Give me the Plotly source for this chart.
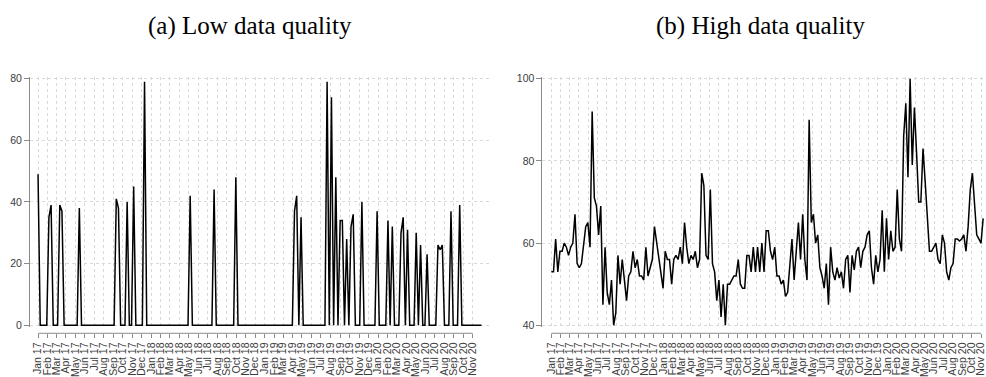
import pandas as pd
import plotly.graph_objects as go

# Weekly counts, starting the week of 1 Jan 2017
low_quality = [
    49, 0, 0, 0, 0, 35, 39, 0, 0, 0,
    39, 37, 0, 0, 0, 0, 0, 0, 0, 38,
    0, 0, 0, 0, 0, 0, 0, 0, 0, 0,
    0, 0, 0, 0, 0, 0, 41, 38, 0, 0,
    0, 40, 0, 0, 45, 0, 0, 0, 0, 79,
    0, 0, 0, 0, 0, 0, 0, 0, 0, 0,
    0, 0, 0, 0, 0, 0, 0, 0, 0, 0,
    42, 0, 0, 0, 0, 0, 0, 0, 0, 0,
    0, 44, 0, 0, 0, 0, 0, 0, 0, 0,
    0, 48, 0, 0, 0, 0, 0, 0, 0, 0,
    0, 0, 0, 0, 0, 0, 0, 0, 0, 0,
    0, 0, 0, 0, 0, 0, 0, 0, 37, 42,
    0, 35, 0, 0, 0, 0, 0, 0, 0, 0,
    0, 0, 0, 79, 0, 74, 0, 48, 0, 34,
    34, 0, 28, 0, 32, 36, 0, 0, 0, 40,
    0, 0, 0, 0, 0, 0, 37, 0, 0, 0,
    0, 34, 0, 32, 0, 0, 0, 30, 35, 0,
    31, 0, 0, 0, 30, 0, 26, 0, 0, 23,
    0, 0, 0, 0, 26, 24.5, 26, 0, 0, 0,
    37, 0, 0, 0, 39, 0, 0, 0, 0, 0,
    0, 0, 0, 0, 0,
]

high_quality = [
    53, 53, 61, 53, 58, 58, 60, 59, 57, 59,
    60, 67, 55, 54, 55, 60, 64, 65, 59, 92,
    71, 69, 62, 69, 45, 59, 48, 45, 51, 40,
    43, 57, 50, 56, 50, 46, 52, 53, 58, 54,
    56, 52, 52, 51, 59, 52, 54, 56, 64, 60,
    56, 53, 49, 58, 56, 56, 50, 56, 57, 56,
    59, 55, 65, 59, 55, 57, 56, 58, 54, 56,
    77, 74, 57, 56, 73, 55, 53, 46, 51, 42,
    50, 40, 50, 50, 51, 52, 52, 56, 50, 49,
    49, 57, 57, 53, 59, 53, 59, 53, 60, 53,
    63, 63, 58, 56, 59, 52, 52, 50, 51, 47,
    48, 55, 61, 51, 57, 65, 56, 67, 56, 51,
    90, 65, 67, 60, 62, 54, 52, 49, 55, 45,
    59, 53, 51, 54, 51.5, 53, 49, 56, 57, 48,
    57, 53.5, 58, 59, 54, 58, 59, 62, 63, 54,
    50, 57, 53, 56, 68, 53, 66, 56, 63, 58,
    59, 73, 61, 58, 86, 94, 76, 100, 79, 93,
    82, 70, 70, 83, 75, 67, 58, 58, 59, 60,
    56, 55, 62, 60, 53, 51, 54, 55, 61, 61,
    60.5, 61, 62, 58, 64, 73, 77, 68, 62, 61,
    60, 66,
]

panel_titles = ["(a) Low data quality", "(b) High data quality"]
low_yticks = [0, 20, 40, 60, 80]
high_yticks = [40, 60, 80, 100]

weeks_low = pd.date_range("2017-01-01", periods=len(low_quality), freq="7D")
weeks_high = pd.date_range("2017-01-01", periods=len(high_quality), freq="7D")
month_ticks = pd.date_range("2017-01-01", "2020-11-01", freq="MS")
month_labels = [d.strftime("%b %y") for d in month_ticks]

W, H = 986, 377


def fx(p):
    return p / W


def fy(p):
    return 1 - p / H


y_domain = [fy(333), fy(75)]
x_axis_pos = fy(340)

axis_grey = "#8a8a8a"
grid_grey = "#d9d9d9"
tick_font = dict(family="Liberation Sans, Arial, sans-serif", size=10.5, color="#3c3c3c")

fig = go.Figure()
fig.add_trace(go.Scatter(x=weeks_low, y=low_quality, mode="lines",
                         line=dict(color="black", width=1.5),
                         xaxis="x", yaxis="y", showlegend=False))
fig.add_trace(go.Scatter(x=weeks_high, y=high_quality, mode="lines",
                         line=dict(color="black", width=1.5),
                         xaxis="x2", yaxis="y2", showlegend=False))


def x_axis(domain, rng):
    return dict(
        domain=domain, range=rng, type="date",
        tickmode="array", tickvals=month_ticks, ticktext=month_labels,
        tickangle=-90, ticks="outside", ticklen=4, tickcolor=axis_grey,
        tickfont=tick_font, ticklabeloverflow="allow",
        showgrid=True, gridcolor=grid_grey,
        griddash="dot", gridwidth=1, showline=False, zeroline=False,
        anchor="free", position=x_axis_pos,
    )


def y_axis(rng, ticks, anchor):
    return dict(
        domain=y_domain, range=rng, tickmode="array", tickvals=ticks,
        ticks="outside", ticklen=5, tickcolor=axis_grey, tickfont=tick_font,
        showgrid=True, gridcolor=grid_grey, griddash="dot", gridwidth=1,
        showline=True, linecolor=axis_grey, linewidth=1, zeroline=False,
        anchor=anchor,
    )


fig.update_layout(
    width=W, height=H,
    margin=dict(l=0, r=0, t=0, b=0),
    paper_bgcolor="white", plot_bgcolor="white",
    xaxis=x_axis([fx(30), fx(490)], ["2016-12-06", "2020-12-25"]),
    yaxis=y_axis([-0.4, 80.4], low_yticks, "x"),
    xaxis2=x_axis([fx(543), 1.0], ["2016-12-03", "2020-11-14"]),
    yaxis2=y_axis([39.7, 100.3], high_yticks, "x2"),
)

# Axis lines running from the first to the last month tick
for xref in ["x", "x2"]:
    fig.add_shape(type="line", xref=xref, yref="paper",
                  x0=month_ticks[0], x1=month_ticks[-1],
                  y0=x_axis_pos, y1=x_axis_pos,
                  line=dict(color=axis_grey, width=1))

for title, cx in zip(panel_titles, [fx(250), fx(761)]):
    fig.add_annotation(text=title, x=cx, y=fy(22), xref="paper", yref="paper",
                       showarrow=False, xanchor="center", yanchor="middle",
                       font=dict(family="Liberation Serif, serif", size=25, color="black"))

fig.write_html("out.html")
